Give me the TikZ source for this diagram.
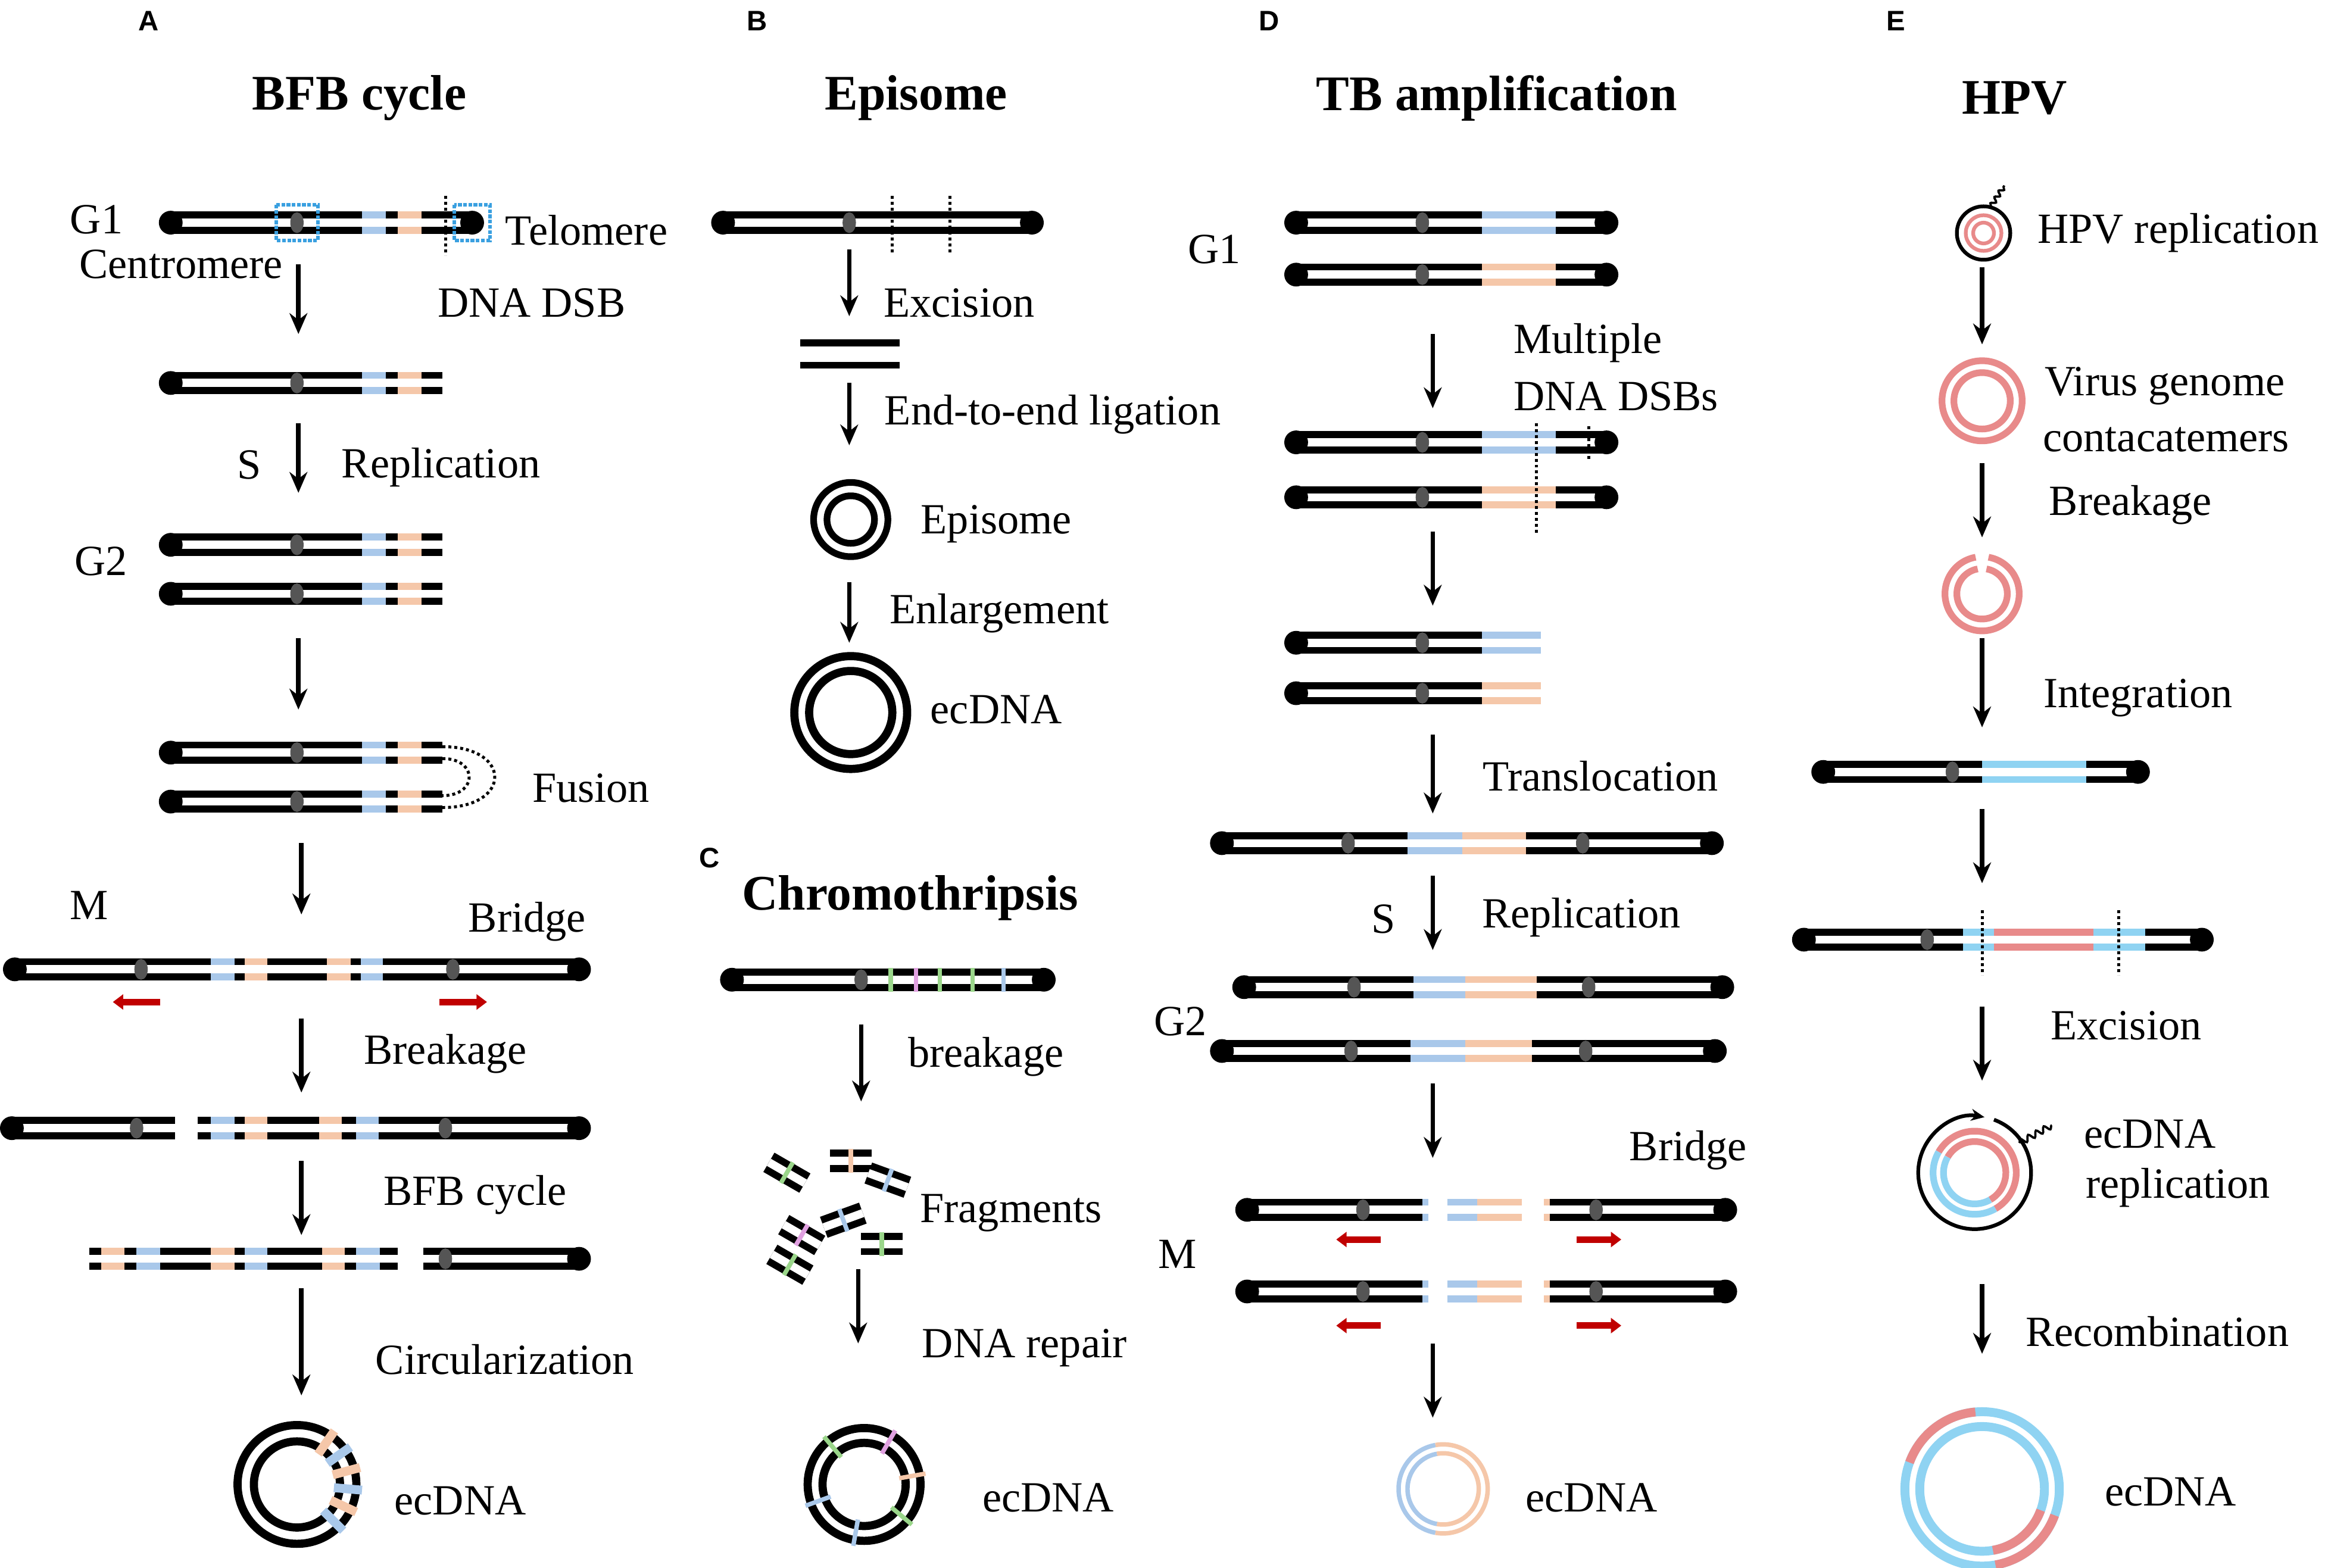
\documentclass[tikz,border=0pt]{standalone}
\usepackage{fontspec}
\setmainfont{Liberation Serif}
\newfontfamily\sansf{Liberation Sans}
\usetikzlibrary{arrows.meta,decorations.pathmorphing}
\definecolor{bl}{HTML}{A9C8EA}
\definecolor{pe}{HTML}{F5C7A9}
\definecolor{cen}{HTML}{555555}
\definecolor{rd}{HTML}{C00000}
\definecolor{pk}{HTML}{E88A8A}
\definecolor{cy}{HTML}{8FD3F2}
\definecolor{dsb}{HTML}{3AA0E0}
\definecolor{gr}{HTML}{9AD68A}
\definecolor{vi}{HTML}{E0A0E0}
\newcommand\chr[3]{\draw[line width=15pt] (#1,#3)--(#2,#3); \draw[white,line width=5.5pt] (#1,#3)--(#2,#3);}
\newcommand\capc[2]{\fill (#1,#2) circle (8pt);}
\newcommand\band[4]{\draw[#4,line width=15pt](#1,#3)--(#2,#3); \draw[white,line width=5.5pt](#1,#3)--(#2,#3);}
\newcommand\cen[2]{\fill[cen](#1,#2) ellipse (4.5pt and 7pt);}
\newcommand\arr[3]{\draw[arr] (#1,#2) -- (#1,#3);}
\newcommand\rarr[3]{\draw[rd,line width=4.5pt,-{Triangle[length=7pt,width=10pt]}] (#1,#3)--(#2,#3);}
\newcommand\dl[3]{\draw[dotted,line width=2pt] (#1,#2)--(#1,#3);}
\tikzset{lab/.style={font=\fontsize{29}{33}\selectfont},
 ttl/.style={font=\fontsize{33.5}{37}\selectfont\bfseries},
 pl/.style={font=\sansf\fontsize{19}{21}\selectfont\bfseries},
 arr/.style={line width=3pt,-{Stealth[length=14pt,width=12pt]}}}
\begin{document}
\begin{tikzpicture}[x=1pt,y=-1pt]
\useasboundingbox[fill=white] (0,0) rectangle (1568,1056);
% ---------- A
\node[pl] (pA) at (100,14) {A};
\node[ttl] (tA) at (242,66) {BFB cycle};
\chr{115}{318}{150}\capc{115}{150}\capc{318}{150}\cen{200}{150}
\band{244}{260}{150}{bl}\band{268}{284}{150}{pe}
\draw[dsb,densely dotted,line width=2.5pt] (186,138) rectangle (214,162);
\draw[dsb,densely dotted,line width=2.5pt] (306,138) rectangle (330,162);
\dl{300}{132}{172}
\node[lab] (g1) at (65,148) {G1};
\node[lab] (cm) at (122,178) {Centromere};
\node[lab] (tel) at (395,155) {Telomere};
\node[lab] (dsbl) at (358,204) {DNA DSB};
\arr{201}{178}{225}
\chr{115}{298}{258}\capc{115}{258}\cen{200}{258}\band{244}{260}{258}{bl}\band{268}{284}{258}{pe}
\node[lab] at (168,313) {S};
\arr{201}{285}{332}
\node[lab] at (297,315) {Replication};
\foreach \y in {367,400}{\chr{115}{298}{\y}\capc{115}{\y}\cen{200}{\y}\band{244}{260}{\y}{bl}\band{268}{284}{\y}{pe}}
\node[lab] at (68,378) {G2};
\arr{201}{430}{478}
\foreach \y in {507,540}{\chr{115}{298}{\y}\capc{115}{\y}\cen{200}{\y}\band{244}{260}{\y}{bl}\band{268}{284}{\y}{pe}}
\draw[dotted,line width=2pt] (298,503) .. controls (345,503) and (345,544) .. (298,544);
\draw[dotted,line width=2pt] (298,511) .. controls (322,511) and (322,536) .. (298,536);
\node[lab] at (398,531) {Fusion};
\arr{203}{568}{616}
\node[lab] at (60,610) {M};
\node[lab] at (355,621) {Bridge};
\chr{10}{390}{653}\capc{10}{653}\capc{390}{653}\cen{95}{653}\cen{305}{653}
\band{142}{158}{653}{bl}\band{165}{180}{653}{pe}\band{220}{236}{653}{pe}\band{243}{258}{653}{bl}
\rarr{108}{76}{675}\rarr{296}{328}{675}
\arr{203}{686}{736}
\node[lab] at (300,710) {Breakage};
\chr{8}{118}{760}\capc{8}{760}\cen{92}{760}
\chr{133}{390}{760}\capc{390}{760}\cen{300}{760}
\band{142}{158}{760}{bl}\band{165}{180}{760}{pe}\band{215}{230}{760}{pe}\band{240}{255}{760}{bl}
\arr{203}{782}{832}
\node[lab] at (320,805) {BFB cycle};
\chr{60}{268}{848}
\band{68}{84}{848}{pe}\band{92}{108}{848}{bl}\band{142}{158}{848}{pe}\band{165}{180}{848}{bl}\band{217}{232}{848}{pe}\band{240}{256}{848}{bl}
\chr{285}{390}{848}\capc{390}{848}\cen{300}{848}
\arr{203}{868}{940}
\node[lab] at (340,916) {Circularization};
\begin{scope}[shift={(200,1000)}]
\draw[line width=5.5pt] (0,0) circle (40pt); \draw[line width=5.5pt] (0,0) circle (29pt);
\foreach \a/\c in {55/pe,35/bl,15/pe,-5/bl,-25/pe,-45/bl}{\draw[\c,line width=6pt] (\a:25pt)--(\a:44pt);}
\end{scope}
\node[lab] at (310,1011) {ecDNA};
% ---------- B
\node[pl] at (510,14) {B};
\node[ttl] at (617,66) {Episome};
\chr{487}{695}{150}\capc{487}{150}\capc{695}{150}\cen{572}{150}
\dl{601}{132}{170}\dl{640}{132}{170}
\arr{572}{168}{213}
\node[lab] at (646,204) {Excision};
\draw[line width=4.5pt] (539,231)--(606,231); \draw[line width=4.5pt] (539,246)--(606,246);
\arr{572}{258}{300}
\node[lab] at (709,279) {End-to-end ligation};
\draw[line width=4.5pt] (573,350) circle (25pt); \draw[line width=4.5pt] (573,350) circle (16pt);
\node[lab] at (671,353) {Episome};
\arr{572}{392}{433}
\node[lab] at (673,413) {Enlargement};
\draw[line width=5.5pt] (573,480) circle (38pt); \draw[line width=5.5pt] (573,480) circle (28pt);
\node[lab] at (671,478) {ecDNA};
% ---------- C
\node[pl] at (478,578) {C};
\node[ttl] at (613,605) {Chromothripsis};
\chr{493}{703}{660}\capc{493}{660}\capc{703}{660}\cen{580}{660}
\foreach \x/\c in {600/gr,617/vi,633/gr,655/gr,676/bl}{\draw[\c,line width=3pt] (\x,652)--(\x,668);}
\arr{580}{690}{742}
\node[lab] at (664,712) {breakage};
\foreach \x/\y/\r/\c in {530/790/-30/gr,573/782/0/pe,598/795/-20/bl,540/832/-30/vi,568/822/20/bl,594/838/0/gr,532/852/-30/gr}{
 \begin{scope}[shift={(\x,\y)},rotate=\r]\chr{-14}{14}{0}\draw[\c,line width=3pt](0,-8)--(0,8);\end{scope}}
\node[lab] at (681,817) {Fragments};
\arr{578}{855}{905}
\node[lab] at (690,908) {DNA repair};
\begin{scope}[shift={(582,1000)}]
\draw[line width=5.5pt] (0,0) circle (38pt); \draw[line width=5.5pt] (0,0) circle (28pt);
\foreach \a/\c in {130/gr,60/vi,10/pe,-40/gr,-100/bl,-160/bl}{\draw[\c,line width=3pt] (\a:24pt)--(\a:42pt);}
\end{scope}
\node[lab] at (706,1009) {ecDNA};
% ---------- D
\node[pl] at (855,14) {D};
\node[ttl] at (1008,66) {TB amplification};
\chr{873}{1082}{150}\capc{873}{150}\capc{1082}{150}\cen{958}{150}\band{998}{1048}{150}{bl}
\chr{873}{1082}{185}\capc{873}{185}\capc{1082}{185}\cen{958}{185}\band{998}{1048}{185}{pe}
\node[lab] at (818,168) {G1};
\arr{965}{225}{275}
\node[lab,anchor=west] at (1016,231) {Multiple};
\node[lab,anchor=west] at (1016,267) {DNA DSBs};
\chr{873}{1082}{298}\capc{873}{298}\capc{1082}{298}\cen{958}{298}\band{998}{1048}{298}{bl}
\chr{873}{1082}{335}\capc{873}{335}\capc{1082}{335}\cen{958}{335}\band{998}{1048}{335}{pe}
\dl{1035}{285}{360}\dl{1070}{287}{310}
\arr{965}{358}{408}
\chr{873}{1038}{433}\capc{873}{433}\cen{958}{433}\band{998}{1038}{433}{bl}
\chr{873}{1038}{467}\capc{873}{467}\cen{958}{467}\band{998}{1038}{467}{pe}
\arr{965}{495}{548}
\node[lab] at (1078,523) {Translocation};
\chr{823}{1153}{568}\capc{823}{568}\capc{1153}{568}\cen{908}{568}\cen{1066}{568}\band{948}{985}{568}{bl}\band{985}{1028}{568}{pe}
\node[lab] at (932,619) {S};
\arr{965}{590}{640}
\node[lab] at (1065,618) {Replication};
\chr{838}{1160}{665}\capc{838}{665}\capc{1160}{665}\cen{912}{665}\cen{1070}{665}\band{952}{987}{665}{bl}\band{987}{1035}{665}{pe}
\chr{823}{1155}{708}\capc{823}{708}\capc{1155}{708}\cen{910}{708}\cen{1068}{708}\band{950}{987}{708}{bl}\band{987}{1032}{708}{pe}
\node[lab] at (795,688) {G2};
\arr{965}{730}{780}
\node[lab] at (1137,775) {Bridge};
\foreach \y in {815,870}{
\chr{840}{962}{\y}\capc{840}{\y}\cen{918}{\y}\band{958}{962}{\y}{bl}
\band{975}{995}{\y}{bl}\band{995}{1025}{\y}{pe}
\chr{1040}{1162}{\y}\capc{1162}{\y}\cen{1075}{\y}\band{1040}{1044}{\y}{pe}}
\rarr{930}{900}{835}\rarr{1062}{1092}{835}
\rarr{930}{900}{893}\rarr{1062}{1092}{893}
\node[lab] at (793,845) {M};
\arr{965}{905}{955}
\begin{scope}[shift={(972,1003)}]
\foreach \r in {30,24}{\draw[bl,line width=3pt] (100:\r pt) arc (100:260:\r pt);\draw[pe,line width=3pt] (-100:\r pt) arc (-100:100:\r pt);}
\end{scope}
\node[lab] at (1072,1009) {ecDNA};
% ---------- E
\node[pl] at (1277,14) {E};
\node[ttl] at (1357,66) {HPV};
\begin{scope}[shift={(1336,157)}]
\draw[line width=2.5pt] (0,0) circle (18pt);
\draw[pk,line width=2.5pt] (0,0) circle (12pt); \draw[pk,line width=2.5pt] (0,0) circle (7pt);
\draw[line width=1.5pt,decorate,decoration={snake,amplitude=1.5pt,segment length=5pt}] (5,-18)--(14,-32);
\end{scope}
\node[lab] at (1467,157) {HPV replication};
\arr{1335}{180}{232}
\draw[pk,line width=4.5pt] (1335,270) circle (27pt); \draw[pk,line width=4.5pt] (1335,270) circle (19pt);
\node[lab] at (1458,260) {Virus genome};
\node[lab] at (1459,296) {contacatemers};
\arr{1335}{312}{362}
\node[lab] at (1435,340) {Breakage};
\begin{scope}[shift={(1335,400)}]
\draw[pk,line width=4.5pt] (100:25pt) arc (100:440:25pt);
\draw[pk,line width=4.5pt] (100:17pt) arc (100:440:17pt);
\end{scope}
\arr{1335}{430}{490}
\node[lab] at (1440,470) {Integration};
\chr{1228}{1440}{520}\capc{1228}{520}\capc{1440}{520}\cen{1315}{520}\band{1335}{1405}{520}{cy}
\arr{1335}{545}{595}
\chr{1215}{1483}{633}\capc{1215}{633}\capc{1483}{633}\cen{1298}{633}\band{1322}{1343}{633}{cy}\band{1343}{1410}{633}{pk}\band{1410}{1445}{633}{cy}
\dl{1335}{613}{657}\dl{1427}{613}{657}
\arr{1335}{678}{728}
\node[lab] at (1432,691) {Excision};
\begin{scope}[shift={(1330,790)}]
\draw[line width=2.5pt,-{Stealth[length=9pt,width=8pt]}] (70:38pt) arc (70:-280:38pt);
\draw[line width=1.5pt,decorate,decoration={snake,amplitude=2pt,segment length=6pt}] (30,-20)--(52,-32);
\foreach \r in {28,21}{\draw[pk,line width=4.5pt] (-60:\r pt) arc (-60:150:\r pt);\draw[cy,line width=4.5pt] (150:\r pt) arc (150:300:\r pt);}
\end{scope}
\node[lab] at (1448,764) {ecDNA};
\node[lab] at (1467,800) {replication};
\arr{1335}{865}{912}
\node[lab] at (1453,897) {Recombination};
\begin{scope}[shift={(1335,1003)}]
\draw[cy,line width=6pt] (0,0) circle (52pt); \draw[cy,line width=6pt] (0,0) circle (42pt);
\draw[pk,line width=6pt] (95:52pt) arc (95:160:52pt);
\draw[pk,line width=6pt] (-20:52pt) arc (-20:-80:52pt);
\draw[pk,line width=6pt] (-20:42pt) arc (-20:-80:42pt);
\end{scope}
\node[lab] at (1462,1005) {ecDNA};
\end{tikzpicture}
\end{document}
